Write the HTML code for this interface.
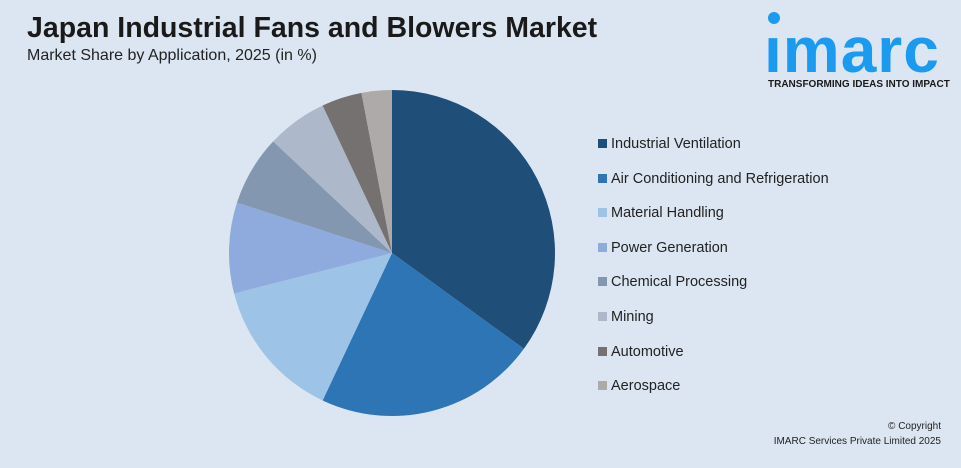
<!DOCTYPE html>
<html><head><meta charset="utf-8"><style>
body{margin:0;width:961px;height:468px;overflow:hidden;background:#dce6f2;font-family:"Liberation Sans",sans-serif;position:relative}
.t{position:absolute;left:27px;top:12px;font-size:28.5px;font-weight:bold;color:#1a1a1a}
.s{position:absolute;left:27px;top:47px;font-size:16px;color:#222}
.logo{position:absolute;left:764px;top:20px;font-size:64px;font-weight:bold;color:#1a9bf0;letter-spacing:1px;line-height:60px}
.dot{position:absolute;left:768px;top:12px;width:12px;height:12px;border-radius:50%;background:#1a9bf0}
.tag{position:absolute;left:768px;top:79px;font-size:10px;font-weight:bold;color:#1a1a1a}
.leg{position:absolute;left:598px;font-size:14.5px;color:#222}
.leg i{display:inline-block;width:9px;height:9px;margin-right:4px}
.c{position:absolute;right:20px;font-size:10px;color:#222;text-align:right}
</style></head><body>
<div class="t">Japan Industrial Fans and Blowers Market</div>
<div class="s">Market Share by Application, 2025 (in %)</div>
<div class="dot"></div>
<div class="logo">ımarc</div>
<div class="tag">TRANSFORMING IDEAS INTO IMPACT</div>
<svg id="pie" width="961" height="468" style="position:absolute;left:0;top:0"></svg>
<div id="legend"></div>
<div class="c" style="top:421px">© Copyright</div>
<div class="c" style="top:436px">IMARC Services Private Limited 2025</div>
<script>
const categories=["Industrial Ventilation","Air Conditioning and Refrigeration","Material Handling","Power Generation","Chemical Processing","Mining","Automotive","Aerospace"];
const values=[35,22,14,9,7,6,4,3];
const colors=["#1f4e79","#2e75b6","#9dc3e6","#8faadc","#8497b0","#adb9ca","#767171","#aeaaaa"];
const svg=document.getElementById('pie');
const cx=392,cy=253,r=163;
const total=values.reduce((a,b)=>a+b,0);
let a0=0;
values.forEach((v,i)=>{
  const a1=a0+v/total*2*Math.PI;
  const x0=cx+r*Math.sin(a0),y0=cy-r*Math.cos(a0),x1=cx+r*Math.sin(a1),y1=cy-r*Math.cos(a1);
  const p=document.createElementNS('http://www.w3.org/2000/svg','path');
  p.setAttribute('d',`M${cx},${cy}L${x0},${y0}A${r},${r} 0 ${a1-a0>Math.PI?1:0} 1 ${x1},${y1}Z`);
  p.setAttribute('fill',colors[i]);
  
  
  svg.appendChild(p);
  a0=a1;
});
const lg=document.getElementById('legend');
categories.forEach((c,i)=>{
  const d=document.createElement('div');
  d.className='leg';d.style.top=(136+i*34.6)+'px';
  d.innerHTML=`<i style="background:${colors[i]}"></i>${c}`;
  
  
  lg.appendChild(d);
});
</script>
</body></html>
